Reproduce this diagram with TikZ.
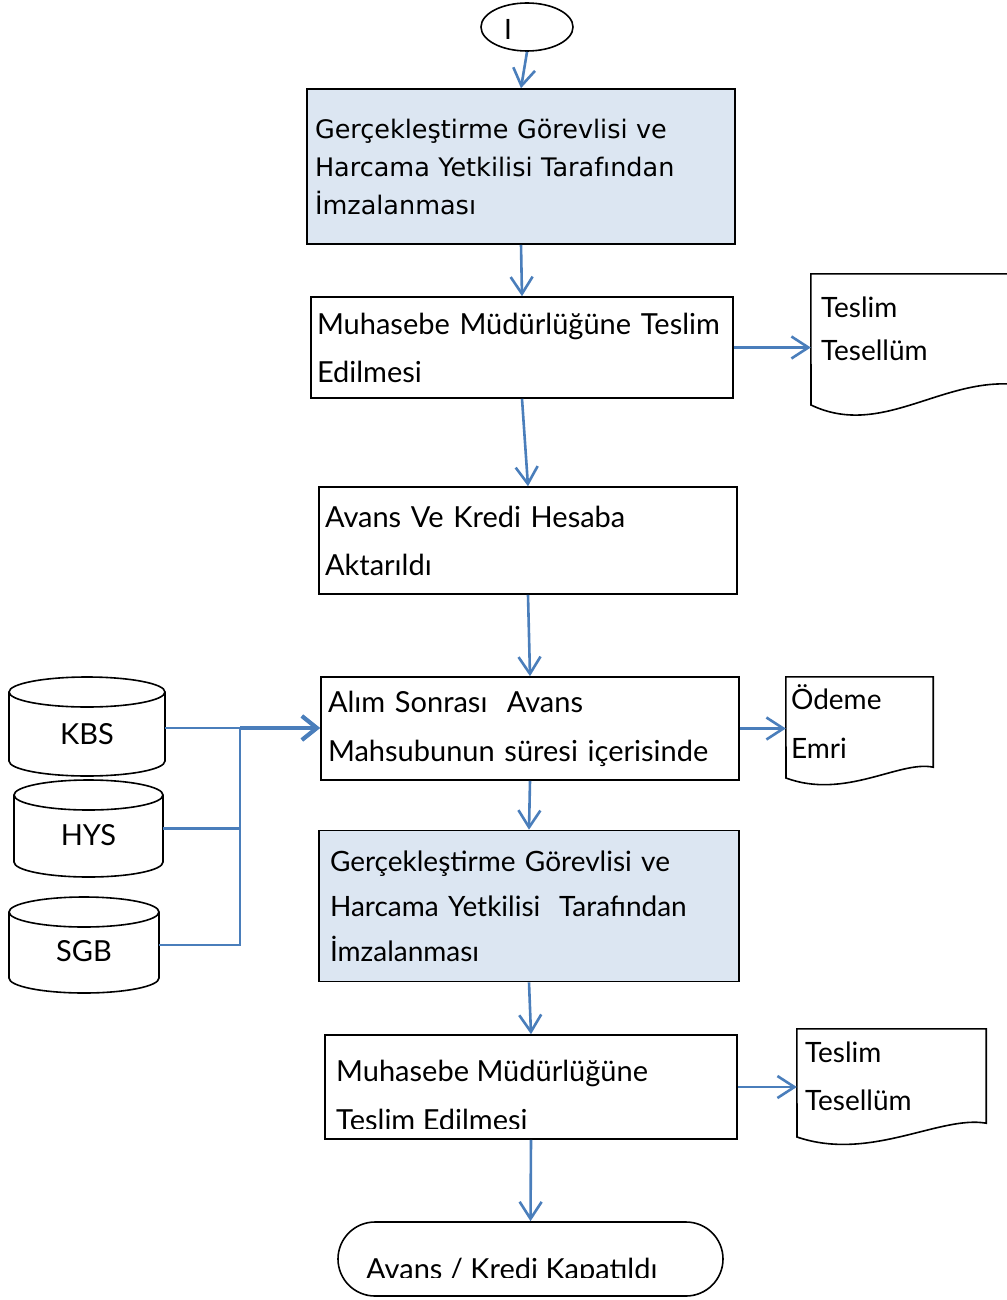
\documentclass[tikz,border=0pt]{standalone}
\usepackage{fontspec}
\setmainfont{Lato}
\newfontfamily\tah{DejaVu Sans}
\usetikzlibrary{arrows.meta,shapes.geometric}
\definecolor{arr}{HTML}{4A7EBB}
\definecolor{lblue}{HTML}{DCE6F2}
\begin{document}
\begin{tikzpicture}[x=1pt,y=-1pt,
  box/.style={draw=black,line width=1.6pt,rectangle,align=left,inner ysep=0pt,anchor=center},
  conn/.style={draw=arr,line width=2.6pt,-{Straight Barb[length=17pt,width=22pt]}},
  thickconn/.style={draw=arr,line width=4.2pt,-{Straight Barb[length=15pt,width=24pt]}},
  cl/.style={draw=arr,line width=2.6pt},
  shp/.style={draw=black,line width=1.6pt,fill=white},
  gfont/.style={font=\fontsize{29}{48}\selectfont},
  dbnode/.style={draw=none,inner sep=0pt,font=\fontsize{29}{34}\selectfont}]
\useasboundingbox (0,0) rectangle (1006,1300);

% start terminal
\node[draw=black,line width=1.6pt,ellipse,minimum width=92pt,minimum height=48pt,inner sep=0pt,
  label={[name=startl,font=\fontsize{28}{34}\selectfont,xshift=-19pt,yshift=-2pt]center:I}] (start) at (527,27) {};

% process boxes
\node[box,fill=lblue,minimum width=428pt,minimum height=155pt,inner xsep=8pt,text width=412pt,font=\tah\fontsize{25.5}{38}\selectfont] (b1) at (521,166.5)
  {\mbox{Gerçekleştirme Görevlisi ve}\\\mbox{Harcama Yetkilisi Tarafından}\\İmzalanması};
\node[box,gfont,minimum width=422pt,minimum height=101pt,inner xsep=6pt,text width=410pt] (b2) at (522,347.5)
  {\mbox{Muhasebe Müdürlüğüne Teslim}\\Edilmesi};
\node[box,gfont,minimum width=418pt,minimum height=107pt,inner xsep=6pt,text width=406pt] (b3) at (528,540.5)
  {\mbox{Avans Ve Kredi Hesaba}\\Aktarıldı};
\node[box,font=\fontsize{29}{49}\selectfont,minimum width=418pt,minimum height=103pt,inner xsep=7pt,text width=404pt] (b4) at (530,728.5)
  {\mbox{Alım Sonrası~ Avans}\\\mbox{Mahsubunun süresi içerisinde}};
\node[box,fill=lblue,font=\fontsize{28}{45}\selectfont,minimum width=420pt,minimum height=151pt,inner xsep=11pt,text width=398pt] (b5) at (529,906)
  {\mbox{Gerçekleştirme Görevlisi ve}\\\mbox{Harcama Yetkilisi~ Tarafından}\\İmzalanması};
\node[box,minimum width=412pt,minimum height=104pt] (b6) at (531,1087) {};
\begin{scope}
  \clip (326,1036) rectangle (736,1128);
  \node[anchor=base west,inner sep=0pt,align=left,font=\fontsize{29}{49}\selectfont] (b6t) at (336,1130)
    {Muhasebe Müdürlüğüne\\Teslim Edilmesi};
\end{scope}

% end terminal
\node[draw=black,line width=1.6pt,rectangle,rounded corners=37pt,minimum width=385pt,minimum height=74pt] (end) at (530.5,1259) {};
\begin{scope}
  \clip (340,1224) rectangle (722,1277);
  \node[anchor=base west,inner sep=0pt,font=\fontsize{29}{34}\selectfont] (endt) at (366,1279) {Avans / Kredi Kapatıldı};
\end{scope}

% documents
\node[inner xsep=10pt,inner ysep=0pt,minimum width=201pt,minimum height=110pt,text width=181pt,align=left,font=\fontsize{28}{43}\selectfont] (d1) at (911.5,329) {Teslim\\Tesellüm};
\draw[shp,fill=none] (d1.north west) -- (811,405) .. controls (880,438) and (940,379) .. (d1.south east) -- (d1.north east) -- cycle;
\node[inner xsep=5pt,inner ysep=0pt,minimum width=147pt,minimum height=90pt,text width=137pt,align=left,font=\fontsize{28}{49}\selectfont] (d2) at (859.5,722) {Ödeme\\Emri};
\draw[shp,fill=none] (d2.north west) -- (786,778) .. controls (845,800) and (900,760) .. (d2.south east) -- (d2.north east) -- cycle;
\node[inner xsep=8pt,inner ysep=0pt,minimum width=189pt,minimum height=94pt,text width=173pt,align=left,font=\fontsize{28}{48}\selectfont] (d3) at (891.5,1076) {Teslim\\Tesellüm};
\draw[shp,fill=none] (d3.north west) -- (797,1137) .. controls (870,1162) and (940,1115) .. (d3.south east) -- (d3.north east) -- cycle;

% databases
\draw[shp] (9,692) -- (9,761) arc[start angle=180,end angle=360,x radius=78pt,y radius=15pt] -- (165,692) arc[start angle=0,end angle=180,x radius=78pt,y radius=15pt] -- cycle;
\draw[shp,fill=none] (9,692) arc[start angle=180,end angle=360,x radius=78pt,y radius=15pt];
\node[dbnode,minimum width=156pt,minimum height=99pt,label={[name=kbsl,font=\fontsize{29}{34}\selectfont,yshift=-6pt]center:KBS}] (kbs) at (87,728) {};

\draw[shp] (14,795) -- (14,862) arc[start angle=180,end angle=360,x radius=74.5pt,y radius=15pt] -- (163,795) arc[start angle=0,end angle=180,x radius=74.5pt,y radius=15pt] -- cycle;
\draw[shp,fill=none] (14,795) arc[start angle=180,end angle=360,x radius=74.5pt,y radius=15pt];
\node[dbnode,minimum width=149pt,minimum height=97pt,label={[name=hysl,font=\fontsize{29}{34}\selectfont,yshift=-6.5pt]center:HYS}] (hys) at (88.5,828.5) {};

\draw[shp] (9,912) -- (9,978) arc[start angle=180,end angle=360,x radius=75pt,y radius=15pt] -- (159,912) arc[start angle=0,end angle=180,x radius=75pt,y radius=15pt] -- cycle;
\draw[shp,fill=none] (9,912) arc[start angle=180,end angle=360,x radius=75pt,y radius=15pt];
\node[dbnode,minimum width=150pt,minimum height=96pt,label={[name=sgbl,font=\fontsize{29}{34}\selectfont,yshift=-6pt]center:SGB}] (sgb) at (84,945) {};

% connectors
\draw[conn] (start.south) -- (b1.north);
\draw[conn] (b1.south) -- (b2.north);
\draw[conn] (b2.south) -- (b3.north);
\draw[conn] (b3.south) -- (b4.north);
\draw[conn] (b4.south) -- (b5.north);
\draw[conn] (b5.south) -- (b6.north);
\draw[conn] (b6.south) -- (end.north);
\draw[conn] (b2.east) -- (b2.east -| d1.west);
\draw[conn] (b4.east) -- (b4.east -| d2.west);
\draw[conn] (b6.east) -- (b6.east -| d3.west);

\coordinate (j1) at (240,728);
\draw[cl] (kbs.east) -- (j1);
\draw[cl] (hys.east) -- (hys.east -| j1);
\draw[cl] (sgb.east) -| (j1);
\draw[thickconn] (j1) -- (j1 -| b4.west);
\end{tikzpicture}
\end{document}
